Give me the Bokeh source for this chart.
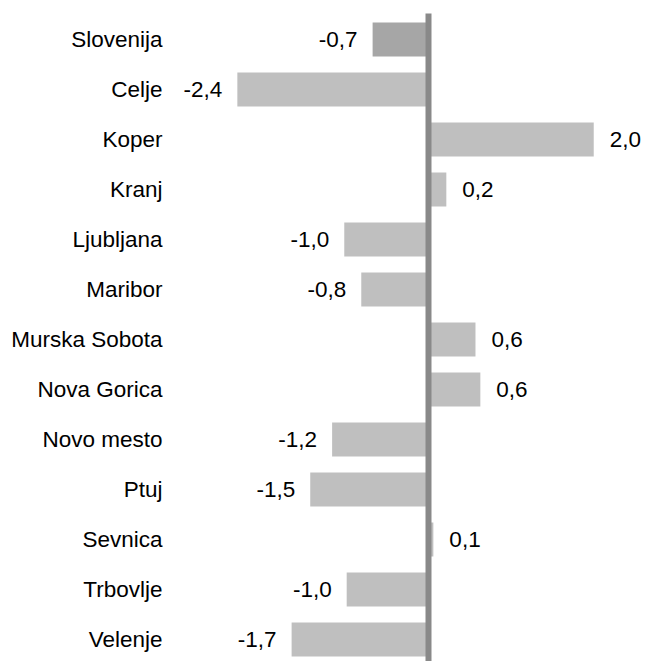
from bokeh.plotting import figure
from bokeh.models import Range1d, ColumnDataSource
from bokeh.core.properties import value
from bokeh.embed import file_html
from bokeh.resources import INLINE

categories = ["Slovenija", "Celje", "Koper", "Kranj", "Ljubljana", "Maribor",
              "Murska Sobota", "Nova Gorica", "Novo mesto", "Ptuj", "Sevnica",
              "Trbovlje", "Velenje"]
values = [-0.69, -2.36, 2.04, 0.22, -1.04, -0.83, 0.58, 0.64, -1.19, -1.46,
          0.06, -1.01, -1.69]
labels = [f"{v:.1f}".replace(".", ",") for v in values]

FONT = "Liberation Sans"

idx = list(range(len(categories)))
colors = ["#a6a6a6"] + ["#bfbfbf"] * (len(categories) - 1)

src = ColumnDataSource(dict(y=idx, v=values, cat=categories, lab=labels, col=colors,
                            lx=[-3.284] * len(idx)))
neg = ColumnDataSource(dict(y=[i for i in idx if values[i] < 0],
                            v=[values[i] for i in idx if values[i] < 0],
                            lab=[labels[i] for i in idx if values[i] < 0]))
pos = ColumnDataSource(dict(y=[i for i in idx if values[i] >= 0],
                            v=[values[i] for i in idx if values[i] >= 0],
                            lab=[labels[i] for i in idx if values[i] >= 0]))

p = figure(width=645, height=661, output_backend="svg", toolbar_location=None,
           x_range=Range1d(-5.284, 2.679), y_range=Range1d(12.44, -0.78),
           min_border=0)
p.axis.visible = False
p.grid.visible = False
p.outline_line_color = None
p.background_fill_color = "white"

p.hbar(y="y", left=0, right="v", height=0.68, fill_color="col", line_color=None, source=src)
p.segment(x0=[0], y0=[-0.52], x1=[0], y1=[12.6], line_color="#898989", line_width=6)

p.text(x="lx", y="y", text="cat", source=src, text_align="right", text_baseline="middle",
       text_font=value(FONT), text_font_size="22.5px", text_color="black")
p.text(x="v", y="y", text="lab", source=neg, text_align="right", text_baseline="middle",
       x_offset=-15, text_font=value(FONT), text_font_size="22.5px", text_color="black")
p.text(x="v", y="y", text="lab", source=pos, text_align="left", text_baseline="middle",
       x_offset=16, text_font=value(FONT), text_font_size="22.5px", text_color="black")

open("out.html", "w").write(file_html(p, INLINE))
